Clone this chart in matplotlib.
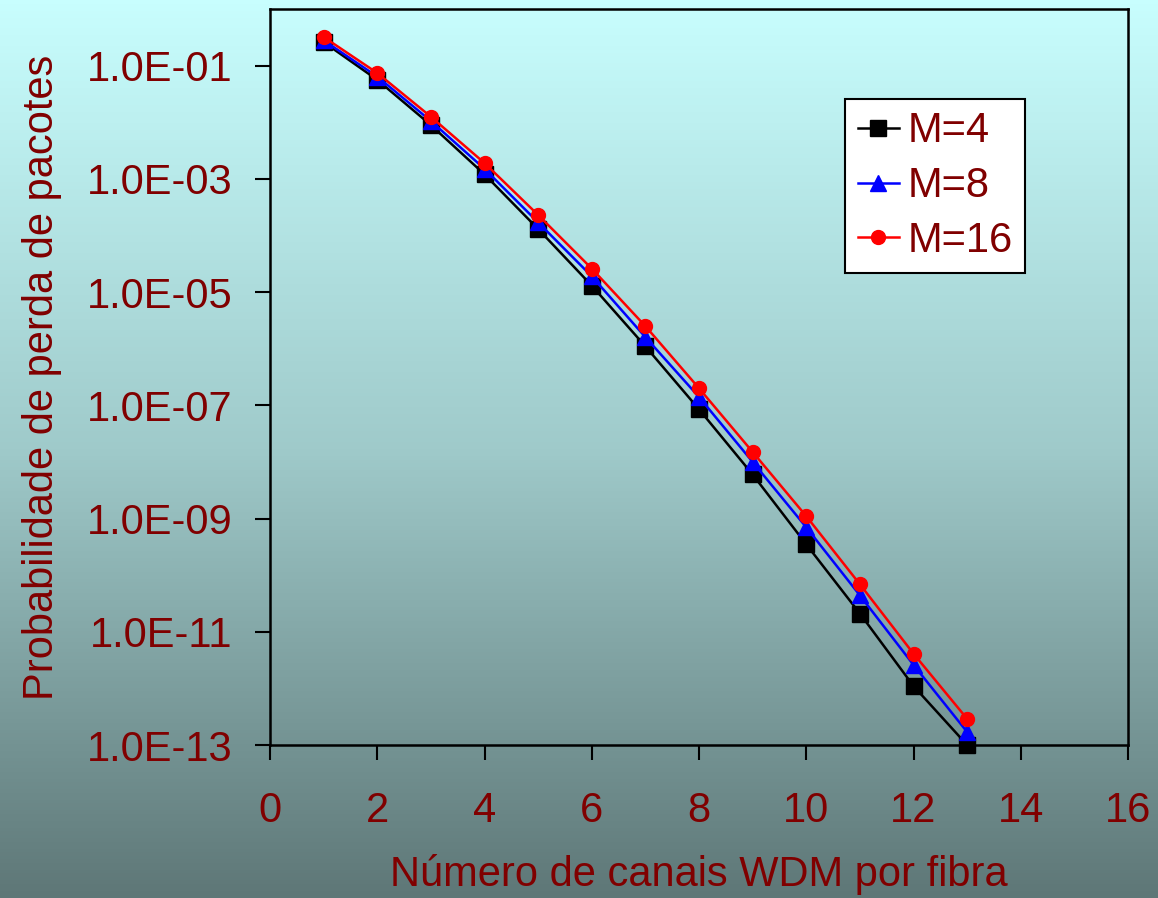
import numpy as np
import matplotlib
matplotlib.use("Agg")
import matplotlib.pyplot as plt
from matplotlib.colors import LinearSegmentedColormap

plt.rcParams['font.family'] = ['Liberation Sans', 'DejaVu Sans']

canais = [1, 2, 3, 4, 5, 6, 7, 8, 9, 10, 11, 12, 13]
m4 = [2.6e-1, 5.6e-2, 8.9e-3, 1.2e-3, 1.3e-4, 1.3e-5, 1.1e-6, 8.5e-8, 6.0e-9,
      3.5e-10, 2.1e-11, 1.1e-12, 1.0e-13]
m8 = [2.8e-1, 6.4e-2, 1.05e-2, 1.5e-3, 1.7e-4, 1.9e-5, 1.6e-6, 1.4e-7, 1.0e-8,
      7.0e-10, 4.4e-11, 2.6e-12, 1.7e-13]
m16 = [3.2e-1, 7.4e-2, 1.25e-2, 1.9e-3, 2.3e-4, 2.6e-5, 2.5e-6, 2.0e-7, 1.5e-8,
       1.1e-9, 6.9e-11, 4.1e-12, 2.9e-13]
labels = ['M=4', 'M=8', 'M=16']
yticks = [1e-1, 1e-3, 1e-5, 1e-7, 1e-9, 1e-11, 1e-13]
ytick_labels = ['1.0E-01', '1.0E-03', '1.0E-05', '1.0E-07', '1.0E-09', '1.0E-11', '1.0E-13']
xticks = [0, 2, 4, 6, 8, 10, 12, 14, 16]

txt = '#800000'
fs = 30
fig = plt.figure(figsize=(11.58, 8.98), dpi=100)

# gradient background
bg = fig.add_axes([0, 0, 1, 1], zorder=-10)
cmap = LinearSegmentedColormap.from_list('bg', ['#C8FEFE', '#9FCACA', '#5E7777'])
grad = np.linspace(0, 1, 256).reshape(-1, 1)
bg.imshow(grad, aspect='auto', cmap=cmap, extent=[0, 1, 0, 1])
bg.axis('off')

ax = fig.add_axes([270/1158, 1-745/898, (1128-270)/1158, (745-9)/898])
ax.set_facecolor('none')
ax.plot(canais, m4, color='black', lw=1.8, marker='s', ms=11, label=labels[0], clip_on=False)
ax.plot(canais, m8, color='blue', lw=1.8, marker='^', ms=11, label=labels[1], clip_on=False)
ax.plot(canais, m16, color='red', lw=1.8, marker='o', ms=10, label=labels[2], clip_on=False)

ax.set_yscale('log')
ax.set_ylim(1e-13, 1e0)
ax.set_xlim(0, 16)
ax.set_yticks(yticks)
ax.set_yticklabels(ytick_labels)
ax.yaxis.set_minor_locator(matplotlib.ticker.NullLocator())
ax.set_xticks(xticks)
ax.tick_params(axis='both', direction='out', length=11, width=1.5, colors='black',
               labelcolor=txt, labelsize=fs)
ax.tick_params(axis='y', pad=16)
ax.tick_params(axis='x', pad=22)
for s in ax.spines.values():
    s.set_linewidth(1.8)
    s.set_color('black')

ax.set_xlabel('Número de canais WDM por fibra', color=txt, fontsize=fs, labelpad=17)
ax.set_ylabel('Probabilidade de perda de pacotes', color=txt, fontsize=fs, labelpad=18)

leg = ax.legend(loc='upper left', bbox_to_anchor=((845-270)/858, 1-(99-9)/736),
                fontsize=fs, frameon=True, fancybox=False, framealpha=1,
                edgecolor='black', handlelength=1.0, handletextpad=0.2,
                borderpad=0.3, labelspacing=0.35, borderaxespad=0)
leg.get_frame().set_linewidth(1.5)
for t in leg.get_texts():
    t.set_color(txt)

fig.savefig('out.png', dpi=100)
